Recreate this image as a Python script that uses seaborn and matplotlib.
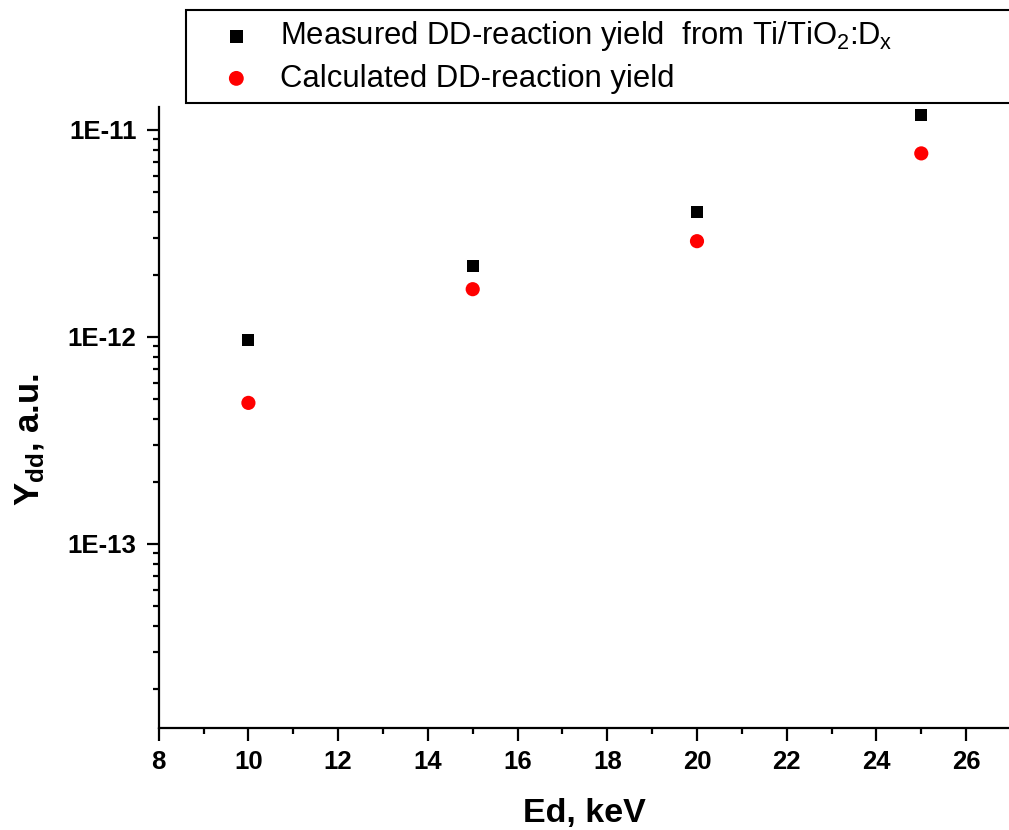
import numpy as np
import pandas as pd
import matplotlib
matplotlib.use("Agg")
import matplotlib.pyplot as plt
import matplotlib.ticker as mticker
import seaborn as sns

# ---- data ----
energy_kev = [10, 15, 20, 25]
measured_yield = [9.7e-13, 2.2e-12, 4.0e-12, 1.18e-11]
calculated_yield = [4.8e-13, 1.7e-12, 2.9e-12, 7.7e-12]
y_major_ticks = [1e-13, 1e-12, 1e-11]
y_tick_labels = ["1E-13", "1E-12", "1E-11"]
label_measured = "Measured DD-reaction yield  from Ti/TiO$_2$:D$_x$"
label_calculated = "Calculated DD-reaction yield"
x_title = "Ed, keV"
y_title = r"Y$_{\mathbf{dd}}$, a.u."

sns.set_style("ticks")
plt.rcParams["font.family"] = ["Liberation Sans", "DejaVu Sans"]
plt.rcParams["mathtext.fontset"] = "custom"
plt.rcParams["mathtext.rm"] = "Liberation Sans"
plt.rcParams["mathtext.it"] = "Liberation Sans:italic"
plt.rcParams["mathtext.bf"] = "Liberation Sans:bold"
plt.rcParams["mathtext.default"] = "regular"
for k in ["text.color", "axes.labelcolor", "xtick.color", "ytick.color", "axes.edgecolor"]:
    plt.rcParams[k] = "black"

fig = plt.figure(figsize=(10.09, 8.30), dpi=100)
ax = fig.add_axes([158.7 / 1009, 1 - 728 / 830, (1011 - 158.7) / 1009, (728 - 107) / 830])

sq_size = 8.6 ** 2
ci_size = 10.2 ** 2
df_m = pd.DataFrame({"E": energy_kev, "Y": measured_yield})
df_c = pd.DataFrame({"E": energy_kev, "Y": calculated_yield})
sns.scatterplot(data=df_m, x="E", y="Y", marker="s", s=sq_size, color="black",
                edgecolor="none", linewidth=0, ax=ax, label=label_measured)
sns.scatterplot(data=df_c, x="E", y="Y", marker="o", s=ci_size, color="#ff0000",
                edgecolor="none", linewidth=0, ax=ax, label=label_calculated)

ax.set_yscale("log")
ax.set_xlim(8, 27)
ax.set_ylim(1.29e-14, 1.29e-11)

ax.xaxis.set_major_locator(mticker.MultipleLocator(2))
ax.xaxis.set_minor_locator(mticker.MultipleLocator(1))
ax.yaxis.set_major_locator(mticker.FixedLocator(y_major_ticks))
ax.yaxis.set_major_formatter(mticker.FixedFormatter(y_tick_labels))
ax.yaxis.set_minor_locator(mticker.LogLocator(base=10, subs=np.arange(2, 10), numticks=20))
ax.yaxis.set_minor_formatter(mticker.NullFormatter())

for s in ["top", "right"]:
    ax.spines[s].set_visible(False)
for s in ["left", "bottom"]:
    ax.spines[s].set_linewidth(1.6)
    ax.spines[s].set_color("black")

ax.tick_params(which="major", direction="out", length=9, width=1.6, color="black",
               labelsize=18.5, pad=7)
ax.tick_params(which="minor", direction="out", length=4.5, width=1.6, color="black",
               labelleft=False, labelbottom=False)
for lab in ax.get_xticklabels() + ax.get_yticklabels():
    lab.set_fontweight("bold")

ax.set_xlabel(x_title, fontsize=24.5, fontweight="bold", labelpad=17)
ax.set_ylabel(y_title, fontsize=25, fontweight="bold")
ax.yaxis.set_label_coords((47 - 158.7) / 852.3, (728 - 440) / (728 - 107))

ax.legend_.remove()
handles, labels = ax.get_legend_handles_labels()
leg = fig.legend(handles, labels, loc="upper left", mode="expand",
                 bbox_to_anchor=(186 / 1009, 1 - 100 / 830, 1.05 - 186 / 1009, 90 / 830),
                 bbox_transform=fig.transFigure, fontsize=22.3, frameon=True, fancybox=False,
                 borderpad=0.3, labelspacing=0.33, handlelength=2.65, handletextpad=0.1,
                 borderaxespad=0, scatterpoints=1)
leg.legend_handles[0].set_sizes([sq_size * 1.2])
leg.legend_handles[1].set_sizes([ci_size * 1.1])
leg.get_frame().set_edgecolor("black")
leg.get_frame().set_linewidth(1.5)
leg.get_frame().set_alpha(1)

fig.savefig("out.png", dpi=100)
